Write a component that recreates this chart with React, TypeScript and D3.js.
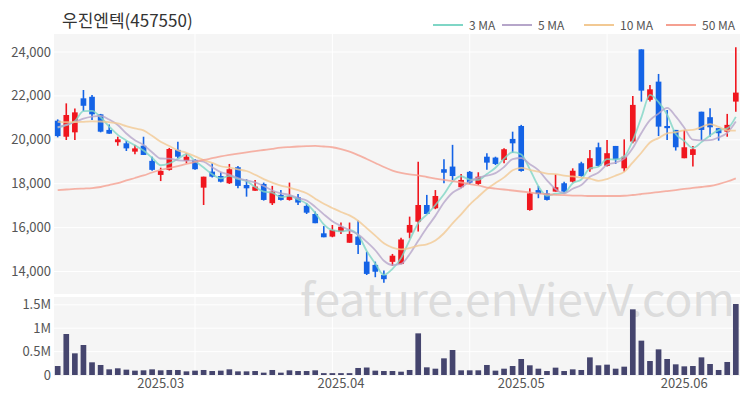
import React from "react";
import * as d3 from "d3";

// daily candles (KRW)
const opens = [
  20870, 20140, 20340, 21890, 21960, 21160, 20450, 19890, 19840, 19460,
  19730, 19040, 18400, 18630, 19540, 19040, 19080, 17820, 18550, 18350,
  18020, 18750, 17940, 17680, 17990, 17110, 17490, 17260, 17380, 16990,
  16620, 15740, 15590, 15820, 15310, 15590, 14450, 14300, 13840, 14440,
  14340, 15770, 16270, 17030, 16880, 18660, 18780, 17840, 18540, 17990,
  19230, 19190, 19080, 20040, 20630, 16800, 17710, 17560, 17640, 18020,
  18090, 18930, 18660, 19660, 18810, 19720, 18700, 19920, 24120, 21820,
  22650, 20630, 20450, 19160, 19310, 21280, 21030, 20530, 20370, 21740,
];
const highs = [
  20930, 21660, 21430, 22270, 22040, 21180, 20700, 20140, 19950, 19760,
  20140, 19230, 18730, 19630, 19910, 19390, 19130, 18320, 18930, 18520,
  18900, 18810, 18200, 18170, 18050, 17900, 17710, 18050, 17530, 17110,
  16730, 16070, 16120, 16230, 16230, 16320, 14900, 14450, 14040, 14800,
  15540, 16500, 19000, 17490, 17710, 19110, 19770, 18440, 18580, 18520,
  19390, 19230, 19610, 20370, 20680, 17790, 17900, 17710, 18430, 18090,
  18700, 19000, 19540, 19870, 19990, 19720, 20020, 22000, 24120, 22500,
  23000, 21360, 20450, 20450, 19720, 21280, 21440, 20530, 21180, 24220,
];
const lows = [
  20110, 19990, 19990, 21310, 20900, 20340, 20280, 19730, 19490, 19340,
  19310, 18590, 18120, 18600, 19160, 18930, 18630, 17030, 18280, 18060,
  17990, 17790, 17410, 17680, 17230, 17030, 17230, 17230, 17030, 16620,
  16200, 15560, 15560, 15710, 15310, 14800, 13840, 13740, 13490, 14250,
  14330, 15510, 15820, 16620, 16840, 18020, 18170, 17790, 17990, 17940,
  18630, 18850, 18930, 19410, 18550, 16770, 17340, 17230, 17640, 17560,
  18050, 18320, 18550, 18780, 18780, 18900, 18550, 19840, 21740, 21740,
  20170, 19990, 19510, 19160, 18780, 19990, 20140, 19960, 20140, 21280,
];
const closes = [
  20170, 21130, 21250, 21550, 21160, 20370, 20280, 20020, 19610, 19610,
  19310, 18630, 18580, 19580, 19230, 19230, 18660, 18320, 18320, 18090,
  18660, 17900, 17790, 17870, 17260, 17640, 17260, 17440, 17140, 16680,
  16200, 15560, 15890, 16040, 15710, 15210, 13890, 13990, 13650, 14720,
  15460, 16120, 17030, 16620, 17440, 18500, 18350, 18170, 18050, 18320,
  18960, 18900, 19570, 19840, 18580, 17560, 17530, 17260, 17840, 17640,
  18590, 18350, 19160, 18810, 19390, 19110, 19230, 21590, 22240, 22300,
  20600, 20530, 19660, 19660, 19570, 20450, 20570, 20300, 20680, 22150,
];
// shares traded
const volumes = [
  192000, 876000, 463000, 641000, 271000, 214000, 121000, 143000, 114000, 93000,
  100000, 121000, 100000, 107000, 107000, 78000, 93000, 107000, 85000, 93000,
  121000, 78000, 78000, 85000, 50000, 107000, 50000, 100000, 85000, 85000,
  100000, 40000, 40000, 40000, 40000, 150000, 160000, 93000, 85000, 85000,
  71000, 107000, 890000, 164000, 135000, 356000, 534000, 100000, 100000, 100000,
  214000, 93000, 135000, 192000, 342000, 207000, 135000, 85000, 157000, 85000,
  121000, 107000, 377000, 207000, 221000, 135000, 178000, 1403000, 734000, 299000,
  548000, 342000, 228000, 185000, 192000, 377000, 235000, 107000, 278000, 1517000,
];
// closes before the first visible day, estimated from where the short MAs start
const earlierCloses = [21300, 21200, 21400, 21000, 20400, 20600, 20600, 20800, 20700];
// 50-day average
const ma50 = [
  17710, 17735, 17760, 17780, 17800, 17850, 17940, 18030, 18150, 18260,
  18375, 18510, 18625, 18715, 18805, 18900, 18990, 19080, 19160, 19240,
  19310, 19375, 19430, 19480, 19535, 19590, 19640, 19670, 19695, 19710,
  19720, 19695, 19660, 19580, 19465, 19305, 19125, 18945, 18760, 18600,
  18490, 18420, 18375, 18305, 18235, 18170, 18115, 18055, 17985, 17920,
  17825, 17780, 17735, 17690, 17645, 17600, 17555, 17520, 17495, 17475,
  17460, 17455, 17440, 17440, 17440, 17440, 17450, 17485, 17530, 17575,
  17620, 17665, 17710, 17760, 17805, 17850, 17895, 17985, 18100, 18245,
];

const monthTickIndex = [12, 33, 54, 73];
const monthTickLabels = ["2025.03", "2025.04", "2025.05", "2025.06"];
const gridIndex = [16, 32, 48, 64];
const priceTicks = [14000, 16000, 18000, 20000, 22000, 24000];
const volumeTicks = [500000, 1000000, 1500000];
const volumeTickLabels = ["0", "0.5M", "1M", "1.5M"];

const UP = "#f0161e";
const DOWN = "#1463e6";
const FONT = "'Noto Sans CJK KR', 'Noto Sans', sans-serif";

function movingAverage(n: number) {
  const all = earlierCloses.concat(closes);
  const off = earlierCloses.length;
  return closes.map((_, i) => d3.mean(all.slice(i + off - n + 1, i + off + 1)) as number);
}

const maLines = [
  { name: "3 MA", color: "#7fd6c6", values: movingAverage(3) },
  { name: "5 MA", color: "#b6a6ca", values: movingAverage(5) },
  { name: "10 MA", color: "#f2c993", values: movingAverage(10) },
  { name: "50 MA", color: "#f5a091", values: ma50 },
];

export default function App() {
  const left = 53.4;
  const right = 740.1;
  const priceTop = 34;
  const priceBottom = 294;
  const volTop = 297;
  const volBottom = 376;

  const x = d3.scaleBand<number>().domain(d3.range(closes.length)).range([left, right]).padding(0);
  const cx = (i: number) => (x(i) as number) + x.bandwidth() / 2;
  const bodyW = x.bandwidth() * 0.66;
  const y = d3.scaleLinear().domain([14000, 24000]).range([271.5, 52]);
  const yv = d3.scaleLinear().domain([0, 1500000]).range([375, 304.8]);

  const line = d3
    .line<number>()
    .x((_, i) => cx(i))
    .y((d) => y(d))
    .curve(d3.curveMonotoneX);

  const legendX = [433, 502, 584, 666];

  return (
    <svg
      width={750}
      height={400}
      style={{ position: "absolute", left: 0, top: 0, display: "block", background: "#fff" }}
      fontFamily={FONT}
    >
      <text x={62} y={27} fontSize={17} fill="#333">
        우진엔텍(457550)
      </text>
      {maLines.map((m, k) => (
        <g key={m.name}>
          <line x1={legendX[k]} x2={legendX[k] + 30} y1={25} y2={25} stroke={m.color} strokeWidth={2} />
          <text x={legendX[k] + 36} y={29.5} fontSize={12} fill="#555">
            {m.name}
          </text>
        </g>
      ))}

      {/* panels */}
      <rect x={54} y={priceTop} width={686} height={priceBottom - priceTop} fill="#f5f5f5" />
      <rect x={54} y={volTop} width={686} height={volBottom - volTop} fill="#f5f5f5" />
      {priceTicks.map((t) => (
        <line key={t} x1={54} x2={740} y1={y(t)} y2={y(t)} stroke="#fff" strokeWidth={1} />
      ))}
      {volumeTicks.map((t) => (
        <line key={t} x1={54} x2={740} y1={yv(t)} y2={yv(t)} stroke="#fff" strokeWidth={1} />
      ))}
      {gridIndex.map((g) => (
        <g key={g}>
          <line x1={cx(g)} x2={cx(g)} y1={priceTop} y2={priceBottom} stroke="#fff" strokeWidth={1} />
          <line x1={cx(g)} x2={cx(g)} y1={volTop} y2={volBottom} stroke="#fff" strokeWidth={1} />
        </g>
      ))}

      <text x={300} y={316} fontSize={44} fill="#dcdcdc" textLength={435} lengthAdjust="spacingAndGlyphs">
        feature.enVievV.com
      </text>

      {/* volume */}
      {volumes.map((v, i) => (
        <rect
          key={i}
          x={cx(i) - bodyW / 2}
          y={yv(v)}
          width={bodyW}
          height={yv(0) - yv(v)}
          fill="#45456e"
        />
      ))}

      {/* candles */}
      {closes.map((c, i) => {
        const o = opens[i];
        const col = c >= o ? UP : DOWN;
        const top = y(Math.max(o, c));
        const h = Math.max(1.5, Math.abs(y(o) - y(c)));
        return (
          <g key={i}>
            <line x1={cx(i)} x2={cx(i)} y1={y(highs[i])} y2={y(lows[i])} stroke={col} strokeWidth={1.6} />
            <rect x={cx(i) - bodyW / 2} y={top} width={bodyW} height={h} fill={col} />
          </g>
        );
      })}

      {maLines.map((m) => (
        <path key={m.name} d={line(m.values) as string} fill="none" stroke={m.color} strokeWidth={1.8} strokeOpacity={0.8} />
      ))}

      {/* axes */}
      {priceTicks.map((t) => (
        <text key={t} x={51} y={y(t) + 4.5} fontSize={13} fill="#555" textAnchor="end">
          {d3.format(",")(t)}
        </text>
      ))}
      {[0, ...volumeTicks].map((t, k) => (
        <text key={t} x={51} y={yv(t) + 4.5} fontSize={13} fill="#555" textAnchor="end">
          {volumeTickLabels[k]}
        </text>
      ))}
      {monthTickIndex.map((m, k) => (
        <text key={m} x={cx(m)} y={388} fontSize={13} fill="#555" textAnchor="middle">
          {monthTickLabels[k]}
        </text>
      ))}
    </svg>
  );
}
